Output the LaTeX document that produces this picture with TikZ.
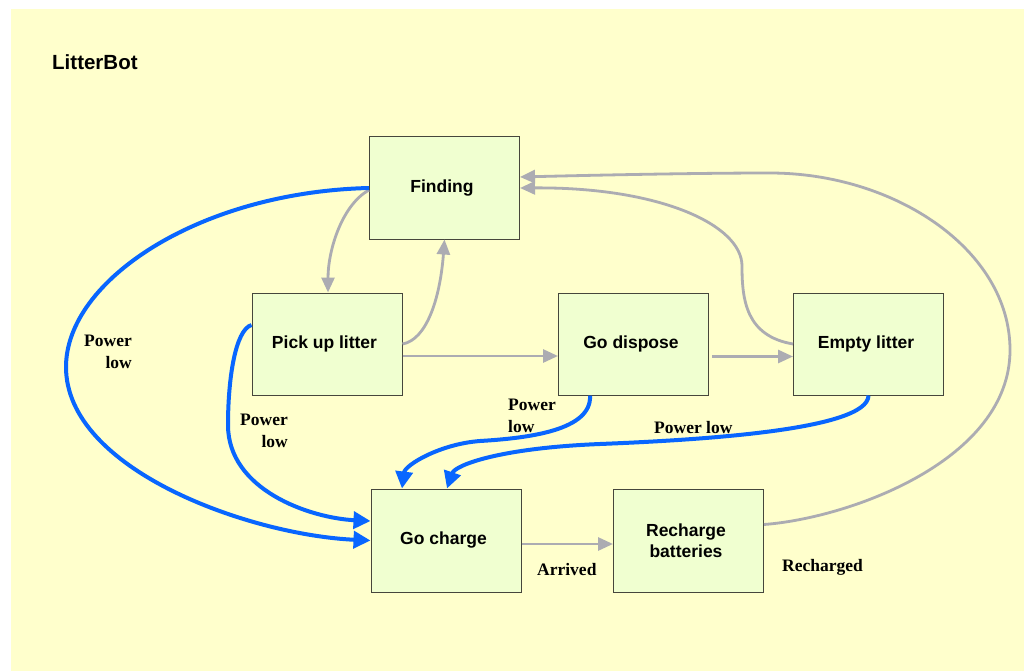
\documentclass[tikz,border=0pt]{standalone}
\usepackage{fontspec}
\setmainfont{Liberation Serif}
\setsansfont{Liberation Sans}
\usetikzlibrary{arrows.meta}
\definecolor{bgyellow}{RGB}{255,255,204}
\definecolor{boxgreen}{RGB}{240,255,208}
\definecolor{boxline}{RGB}{70,70,60}
\definecolor{flowgray}{RGB}{172,172,178}
\definecolor{flowblue}{RGB}{8,102,255}
% state labels sit a little left of the box centre
\newcommand{\lft}[1]{\hspace*{-5pt}#1}
\tikzset{
  state/.style={draw=boxline, line width=1pt, fill=boxgreen,
    minimum width=150pt, minimum height=102pt, inner sep=0pt,
    align=center, font=\sffamily\bfseries\fontsize{17.5}{21}\selectfont},
  normal/.style={draw=flowgray, line width=2.8pt,
    -{Triangle[length=15pt,width=13pt]}},
  lowpower/.style={draw=flowblue, line width=4pt,
    -{Triangle[length=17pt,width=17pt]}},
  cond/.style={font=\rmfamily\bfseries\fontsize{17.5}{21.5}\selectfont, inner sep=0pt},
}
\begin{document}
\begin{tikzpicture}[x=1pt, y=-1pt]
  \useasboundingbox (0,0) rectangle (1024,671);
  \fill[white] (0,0) rectangle (1024,671);
  \fill[bgyellow] (11,9) rectangle (1024,671);

  \node[anchor=west, font=\sffamily\bfseries\fontsize{20.5}{24}\selectfont, inner sep=0pt] (title) at (52,62) {LitterBot};

  % states
  \node[state] (find)     at (444.5,188)   {\lft{Finding}};
  \node[state] (pick)     at (327,344)     {\lft{Pick up litter}};
  \node[state] (dispose)  at (633.5,344)   {\lft{Go dispose}};
  \node[state] (empty)    at (868.5,344)   {\lft{Empty litter}};
  \node[state, minimum height=103pt] (charge)   at (446,540.5)   {\lft{Go charge}};
  \node[state, minimum height=103pt] (recharge) at (688.5,540.5) {\lft{Recharge}\\\lft{batteries}};

  % normal transitions
  \draw[normal] ([yshift=-2pt]find.west) .. controls (342,205) and (328,250) .. ([xshift=1pt]pick.north);
  \draw[normal] (pick.east) .. controls (426,340) and (440,300) .. (find.south);
  \draw[normal] ([yshift=-12pt]pick.east) -- ([yshift=-12pt]dispose.west);
  \draw[normal] ([xshift=3pt,yshift=-12.5pt]dispose.east) -- ([yshift=-12.5pt]empty.west);
  \draw[normal] (empty.west) .. controls (746,336) and (742,300) .. (742,266)
                .. controls (742,225) and (660,187) .. (find.east);
  \draw[normal] ([yshift=16pt]recharge.east) .. controls (850,518) and (1010,460) .. (1010,350)
                .. controls (1010,250) and (895,173) .. (770,173)
                .. controls (700,173) and (600,175) .. ([yshift=11pt]find.east);
  \draw[normal] ([yshift=-3.5pt]charge.east) -- ([yshift=-3.5pt]recharge.west);

  % power-low transitions
  \draw[lowpower] (find.west) .. controls (200,192) and (66,280) .. (66,367)
                  .. controls (66,470) and (250,535) .. (charge.west);
  \draw[lowpower] ([yshift=19pt]pick.west) .. controls (235,330) and (228,380) .. (228,425)
                  .. controls (228,490) and (310,518) .. ([yshift=19.5pt]charge.west);
  \draw[lowpower] ([xshift=-43.5pt]dispose.south) .. controls (592,430) and (530,438) .. (480,441)
                  .. controls (440,444) and (405,465) .. ([xshift=-44pt]charge.north);
  \draw[lowpower] (empty.south) .. controls (868,430) and (700,440) .. (600,444)
                  .. controls (500,448) and (455,465) .. ([xshift=1pt]charge.north);

  % transition labels
  \node[cond, anchor=east, align=right] (pl1) at (132,352) {Power\\low};
  \node[cond, anchor=east, align=right] (pl2) at (288,431) {Power\\low};
  \node[cond, anchor=west, align=left]  (pl3) at (508,416) {Power\\low};
  \node[cond, anchor=west] (pl4) at (654,428) {Power low};
  \node[cond, anchor=west] (arr) at (537,570) {Arrived};
  \node[cond, anchor=west] (rch) at (782,567) {Recharged};
\end{tikzpicture}
\end{document}
